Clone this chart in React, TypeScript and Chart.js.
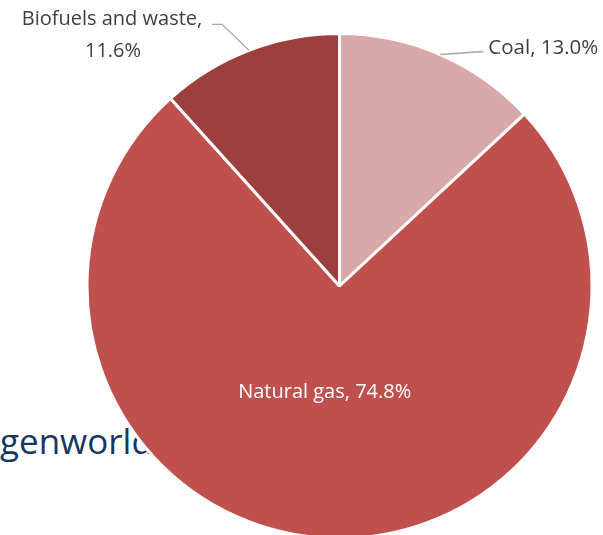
import React, { useEffect, useRef } from "react";
import { Chart, registerables } from "chart.js";

Chart.register(...registerables);

const categories = ["Coal", "Natural gas", "Biofuels and waste"];
const shares = [13.0, 74.8, 11.6];
const sliceColors = ["#D9A9A9", "#C0504D", "#9C3F3D"];

const FONT = "'Open Sans', 'Liberation Sans', sans-serif";

const labelPlugin = {
  id: "sliceLabels",
  afterDatasetsDraw(chart: any) {
    const ctx = chart.ctx;
    const arcs = chart.getDatasetMeta(0).data;
    ctx.save();
    ctx.textBaseline = "alphabetic";
    arcs.forEach((arc: any, i: number) => {
      const { x, y, startAngle, endAngle, outerRadius } = arc.getProps(
        ["x", "y", "startAngle", "endAngle", "outerRadius"],
        true
      );
      const mid = (startAngle + endAngle) / 2;
      const txt = `${categories[i]}, ${shares[i].toFixed(1)}%`;
      ctx.font = `20px ${FONT}`;
      if (i === 1) {
        const r = outerRadius * 0.43;
        ctx.fillStyle = "#FFFFFF";
        ctx.textAlign = "center";
        ctx.fillText(txt, x + Math.cos(mid) * r - 10, y + Math.sin(mid) * r + 4);
        return;
      }
      const ex = x + Math.cos(mid) * outerRadius;
      const ey = y + Math.sin(mid) * outerRadius;
      ctx.strokeStyle = "#A6A6A6";
      ctx.lineWidth = 1.3;
      ctx.fillStyle = "#404040";
      if (i === 0) {
        const lx = ex + 43;
        const ly = ey - 3;
        ctx.beginPath();
        ctx.moveTo(ex, ey);
        ctx.lineTo(lx, ly);
        ctx.stroke();
        ctx.textAlign = "left";
        ctx.font = `20.5px ${FONT}`;
        ctx.fillText(txt, lx + 5, ly + 2);
      } else {
        const kx = ex - 27;
        const ky = ey - 26;
        const hx = kx - 10;
        ctx.beginPath();
        ctx.moveTo(ex, ey);
        ctx.lineTo(kx, ky);
        ctx.lineTo(hx, ky);
        ctx.stroke();
        ctx.textAlign = "center";
        const cx = hx - 100;
        ctx.fillText(`${categories[i]},`, cx, ky + 1);
        ctx.fillText(`${shares[i].toFixed(1)}%`, cx + 1, ky + 33);
      }
    });
    ctx.restore();
  },
};

export default function App() {
  const ref = useRef<HTMLCanvasElement | null>(null);
  useEffect(() => {
    document.body.style.margin = "0";
    const chart = new Chart(ref.current as HTMLCanvasElement, {
      type: "pie",
      data: {
        labels: categories,
        datasets: [
          {
            data: shares,
            backgroundColor: sliceColors,
            borderColor: "#FFFFFF",
            borderWidth: 3,
          },
        ],
      },
      options: {
        responsive: false,
        animation: false,
        layout: { padding: { top: 32, bottom: 0, left: 85.5, right: 9.5 } },
        plugins: { legend: { display: false }, tooltip: { enabled: false } },
      },
      plugins: [labelPlugin],
    });
    return () => chart.destroy();
  }, []);
  return (
    <div
      style={{
        position: "relative",
        width: 603,
        height: 535,
        overflow: "hidden",
        background: "#FFFFFF",
      }}
    >
      <div
        style={{
          position: "absolute",
          left: 0,
          top: 421,
          fontFamily: FONT,
          fontSize: 35,
          color: "#17375E",
          lineHeight: "40px",
          whiteSpace: "nowrap",
        }}
      >
        genworld
      </div>
      <canvas
        ref={ref}
        width={603}
        height={540}
        style={{ position: "absolute", left: 0, top: 0 }}
      />
    </div>
  );
}
